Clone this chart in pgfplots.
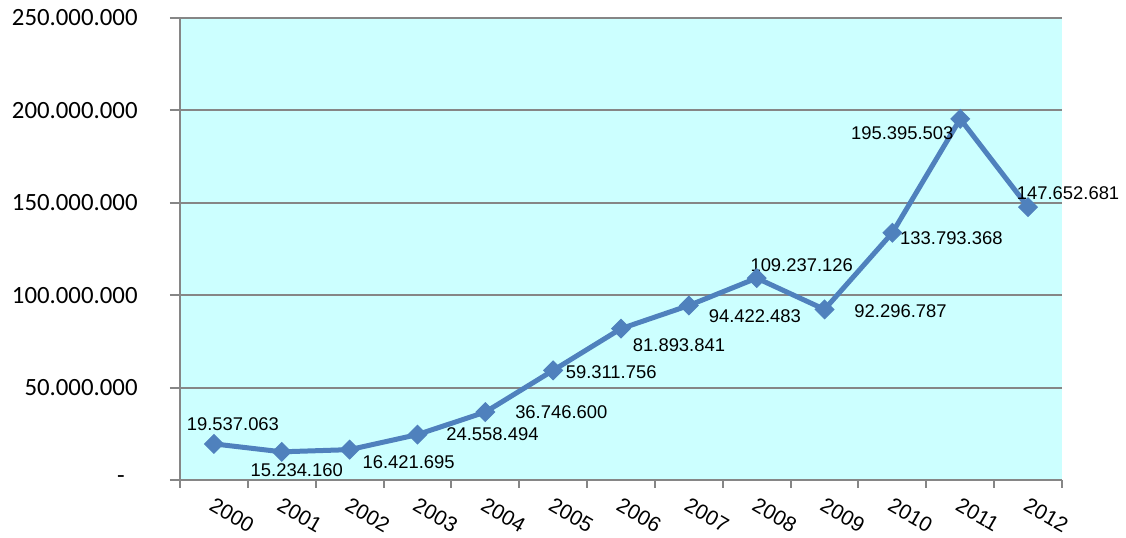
\documentclass[border=0pt]{standalone}
\usepackage{fontspec}
\setmainfont{Liberation Sans}
\newfontfamily\carlito{Carlito}
\usepackage{pgfplots}
\pgfplotsset{compat=1.18}
\definecolor{bgcyan}{RGB}{204,255,255}
\definecolor{lineblue}{RGB}{79,129,189}
\definecolor{axgray}{RGB}{134,134,134}
\begin{document}
\begin{tikzpicture}
\begin{axis}[
  scale only axis,
  width=441pt, height=231pt,
  xmin=-0.5, xmax=12.5,
  ymin=0, ymax=250000000,
  scaled y ticks=false,
  axis lines*=left,
  axis line style={axgray, line width=1pt},
  axis background/.style={fill=bgcyan},
  ymajorgrids,
  grid style={axgray, line width=1pt},
  tick align=outside,
  major tick length=5pt,
  minor tick length=4pt,
  xtick={0,1,...,12},
  minor xtick={-0.5,0.5,...,12.5},
  major x tick style={draw=none},
  minor x tick style={axgray, line width=1pt},
  ytick style={axgray, line width=1pt},
  xticklabels={2000,2001,2002,2003,2004,2005,2006,2007,2008,2009,2010,2011,2012},
  xticklabel style={font=\fontsize{10.5}{12}\selectfont, rotate=-30, anchor=north west, inner sep=0pt, xshift=2.25pt, yshift=-2.5pt},
  ytick={0,50000000,100000000,150000000,200000000,250000000},
  yticklabels={-\hspace*{6.5pt},50.000.000,100.000.000,150.000.000,200.000.000,250.000.000},
  yticklabel style={font=\carlito\fontsize{12.4}{14}\selectfont, anchor=east, inner sep=0pt, xshift=-16pt},
  clip=false,
]
\addplot[lineblue, line width=2.5pt, mark=square*, mark size=3.3pt, mark options={rotate=45, fill=lineblue, draw=lineblue, line width=0.5pt}]
  coordinates {
  (0,19537063) (1,15234160) (2,16421695) (3,24558494) (4,36746600)
  (5,59311756) (6,81893841) (7,94422483) (8,109237126) (9,92296787)
  (10,133793368) (11,195395503) (12,147652681)
  };
\begin{scope}[every node/.style={font=\fontsize{9.2}{11}\selectfont, inner sep=0pt, anchor=center}]
\node[xshift=9.5pt, yshift=10pt] at (axis cs:0,19537063) {19.537.063};
\node[xshift=7.5pt, yshift=-9pt] at (axis cs:1,15234160) {15.234.160};
\node[xshift=29.5pt, yshift=-6.5pt] at (axis cs:2,16421695) {16.421.695};
\node[xshift=37.5pt, yshift=0pt] at (axis cs:3,24558494) {24.558.494};
\node[xshift=38pt, yshift=0pt] at (axis cs:4,36746600) {36.746.600};
\node[xshift=29pt, yshift=-1pt] at (axis cs:5,59311756) {59.311.756};
\node[xshift=29pt, yshift=-8.5pt] at (axis cs:6,81893841) {81.893.841};
\node[xshift=33pt, yshift=-5.5pt] at (axis cs:7,94422483) {94.422.483};
\node[xshift=22.5pt, yshift=6.5pt] at (axis cs:8,109237126) {109.237.126};
\node[xshift=38pt, yshift=-1pt] at (axis cs:9,92296787) {92.296.787};
\node[xshift=29.5pt, yshift=-2.5pt] at (axis cs:10,133793368) {133.793.368};
\node[xshift=-29pt, yshift=-7pt] at (axis cs:11,195395503) {195.395.503};
\node[xshift=20pt, yshift=7pt] at (axis cs:12,147652681) {147.652.681};
\end{scope}
\end{axis}
\pgfresetboundingbox
\path[use as bounding box] ([xshift=-90pt,yshift=-29pt]current axis.south west) rectangle ([xshift=32pt,yshift=9pt]current axis.north east);
\end{tikzpicture}
\end{document}
